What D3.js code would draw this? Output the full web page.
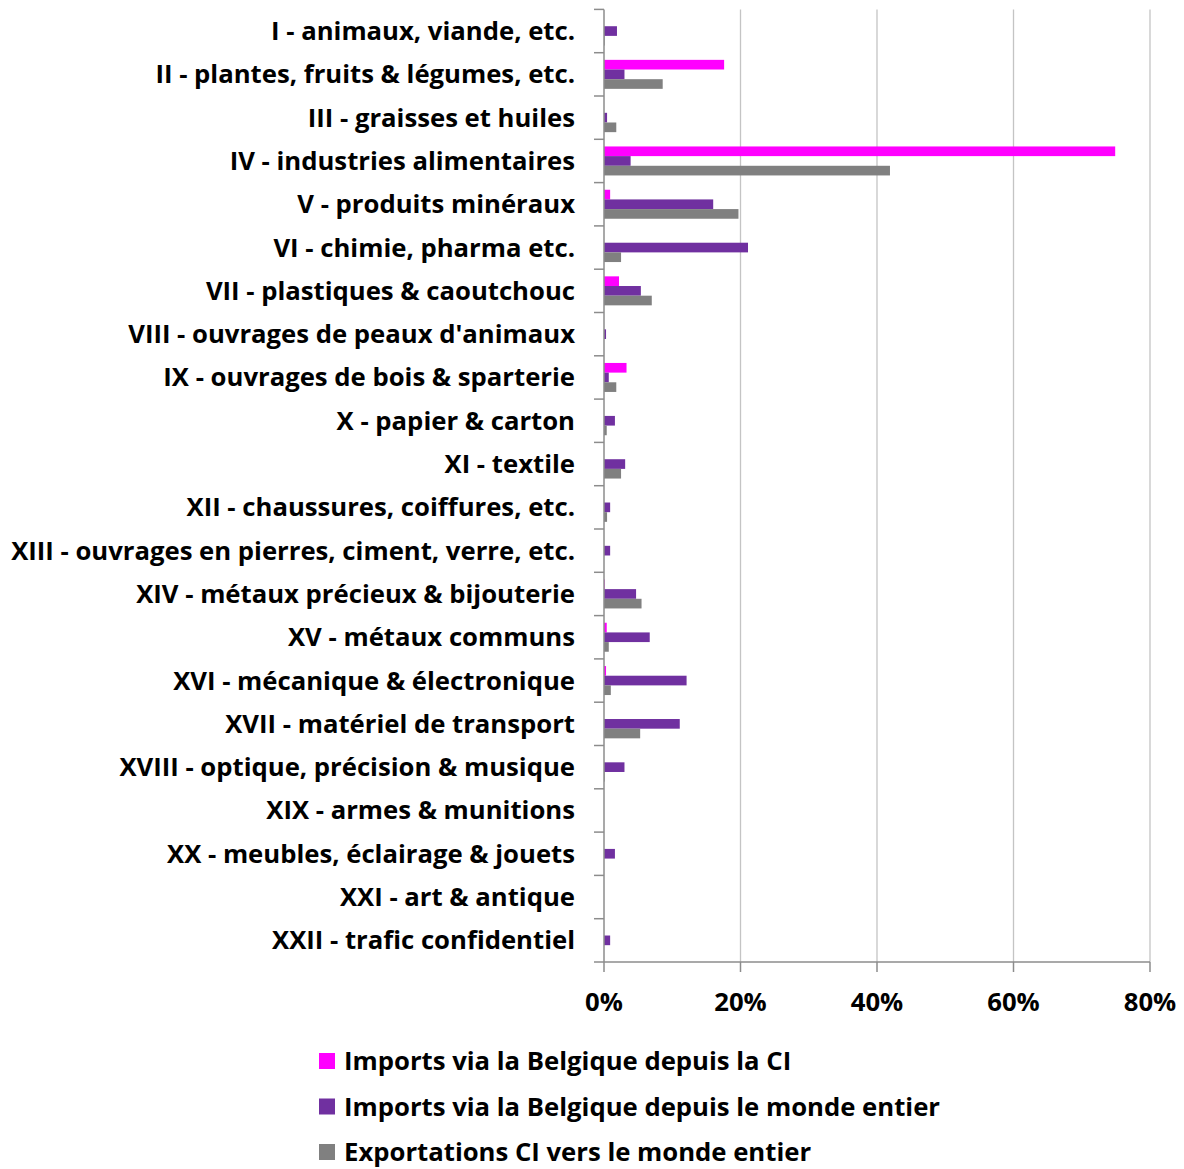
<!DOCTYPE html>
<html lang="fr">
<head>
  <meta charset="UTF-8">
  <title>Sections HS</title>
  <script src="https://d3js.org/d3.v7.min.js"></script>
  <style>
    body { margin: 0; background: #fff; }
    text { font-family: "Open Sans", Lato, sans-serif; font-weight: bold; fill: #000; }
  </style>
</head>
<body>
<svg id="chart" width="1184" height="1169"></svg>

<script>
  // Categories (HS sections)
  const categories = [
    "I - animaux, viande, etc.",
    "II - plantes, fruits & légumes, etc.",
    "III - graisses et huiles",
    "IV - industries alimentaires",
    "V - produits minéraux",
    "VI - chimie, pharma etc.",
    "VII - plastiques & caoutchouc",
    "VIII - ouvrages de peaux d'animaux",
    "IX - ouvrages de bois & sparterie",
    "X - papier & carton",
    "XI - textile",
    "XII - chaussures, coiffures, etc.",
    "XIII - ouvrages en pierres, ciment, verre, etc.",
    "XIV - métaux précieux & bijouterie",
    "XV - métaux communs",
    "XVI - mécanique & électronique",
    "XVII - matériel de transport",
    "XVIII - optique, précision & musique",
    "XIX - armes & munitions",
    "XX - meubles, éclairage & jouets",
    "XXI - art & antique",
    "XXII - trafic confidentiel"
  ];

  const seriesNames = [
    "Imports via la Belgique depuis la CI",
    "Imports via la Belgique depuis le monde entier",
    "Exportations CI vers le monde entier"
  ];
  const seriesColors = ["#ff00ff", "#7030a0", "#808080"];

  // shares in %
  const importsCI    = [0, 17.6, 0, 74.9, 0.9, 0, 2.2, 0, 3.3, 0, 0, 0, 0, 0.1, 0.4, 0.3, 0, 0, 0, 0, 0, 0];
  const importsWorld = [1.9, 3.0, 0.45, 3.9, 16.0, 21.1, 5.4, 0.3, 0.7, 1.6, 3.1, 0.9, 0.9, 4.7, 6.7, 12.1, 11.1, 3.0, 0, 1.6, 0, 0.9];
  const exportsCI    = [0.1, 8.6, 1.8, 41.9, 19.7, 2.5, 7.0, 0, 1.8, 0.4, 2.5, 0.45, 0, 5.5, 0.7, 1.0, 5.3, 0.1, 0, 0, 0, 0];

  const xTicks = [0, 20, 40, 60, 80];

  const seriesValues = [importsCI, importsWorld, exportsCI];

  const svg = d3.select("#chart");
  const plotLeft = 604, plotRight = 1150, plotTop = 9.4, plotBottom = 962;
  const fontSize = "25.7px";

  const x = d3.scaleLinear().domain([0, 80]).range([plotLeft, plotRight]);
  const y0 = d3.scaleBand().domain(categories).range([plotTop, plotBottom]);
  const y1 = d3.scaleBand().domain(d3.range(3)).range([0, y0.bandwidth()]).paddingOuter(0.74);

  // gridlines
  svg.append("g")
    .selectAll("line")
    .data(xTicks.filter(d => d > 0))
    .enter().append("line")
    .attr("x1", d => x(d)).attr("x2", d => x(d))
    .attr("y1", plotTop).attr("y2", plotBottom)
    .attr("stroke", "#c4c4c4")
    .attr("stroke-width", 1.3);

  // bars
  const rows = categories.map((c, i) => ({cat: c, vals: seriesValues.map(s => s[i])}));
  svg.append("g")
    .selectAll("g")
    .data(rows)
    .enter().append("g")
    .attr("transform", d => "translate(0," + y0(d.cat) + ")")
    .selectAll("rect")
    .data(d => d.vals.map((v, k) => ({v: v, k: k})))
    .enter().append("rect")
    .attr("x", x(0))
    .attr("y", d => y1(d.k))
    .attr("width", d => x(d.v) - x(0))
    .attr("height", y1.bandwidth())
    .attr("fill", d => seriesColors[d.k]);

  // y axis line + ticks at band boundaries
  const axisColor = "#8c8c8c";
  svg.append("line")
    .attr("x1", x(0)).attr("x2", x(0))
    .attr("y1", plotTop).attr("y2", plotBottom)
    .attr("stroke", axisColor).attr("stroke-width", 1.5);
  const bounds = categories.map(c => y0(c)).concat([y0.range()[1]]);
  svg.append("g")
    .selectAll("line")
    .data(bounds)
    .enter().append("line")
    .attr("x1", x(0) - 10).attr("x2", x(0))
    .attr("y1", d => d).attr("y2", d => d)
    .attr("stroke", axisColor).attr("stroke-width", 1.5);

  // x axis line + ticks
  svg.append("line")
    .attr("x1", x(0)).attr("x2", x(80))
    .attr("y1", plotBottom).attr("y2", plotBottom)
    .attr("stroke", axisColor).attr("stroke-width", 1.5);
  svg.append("g")
    .selectAll("line")
    .data(xTicks)
    .enter().append("line")
    .attr("x1", d => x(d)).attr("x2", d => x(d))
    .attr("y1", plotBottom).attr("y2", plotBottom + 10)
    .attr("stroke", axisColor).attr("stroke-width", 1.5);

  // x tick labels
  svg.append("g")
    .selectAll("text")
    .data(xTicks)
    .enter().append("text")
    .attr("x", d => x(d))
    .attr("y", 1002)
    .attr("dy", "0.35em")
    .attr("text-anchor", "middle")
    .style("font-size", fontSize)
    .text(d => d + "%");

  // category labels
  svg.append("g")
    .selectAll("text")
    .data(categories)
    .enter().append("text")
    .attr("x", 575)
    .attr("y", d => y0(d) + y0.bandwidth() / 2)
    .attr("dy", "0.35em")
    .attr("text-anchor", "end")
    .style("font-size", fontSize)
    .text(d => d);

  // legend
  const legend = svg.append("g")
    .selectAll("g")
    .data(seriesNames)
    .enter().append("g")
    .attr("transform", (d, i) => "translate(319," + (1061 + i * 45.5) + ")");
  legend.append("rect")
    .attr("x", 0).attr("y", -8)
    .attr("width", 16).attr("height", 16)
    .attr("fill", (d, i) => seriesColors[i]);
  legend.append("text")
    .attr("x", 25).attr("y", 0)
    .attr("dy", "0.35em")
    .style("font-size", fontSize)
    .text(d => d);
</script>
</body>
</html>
